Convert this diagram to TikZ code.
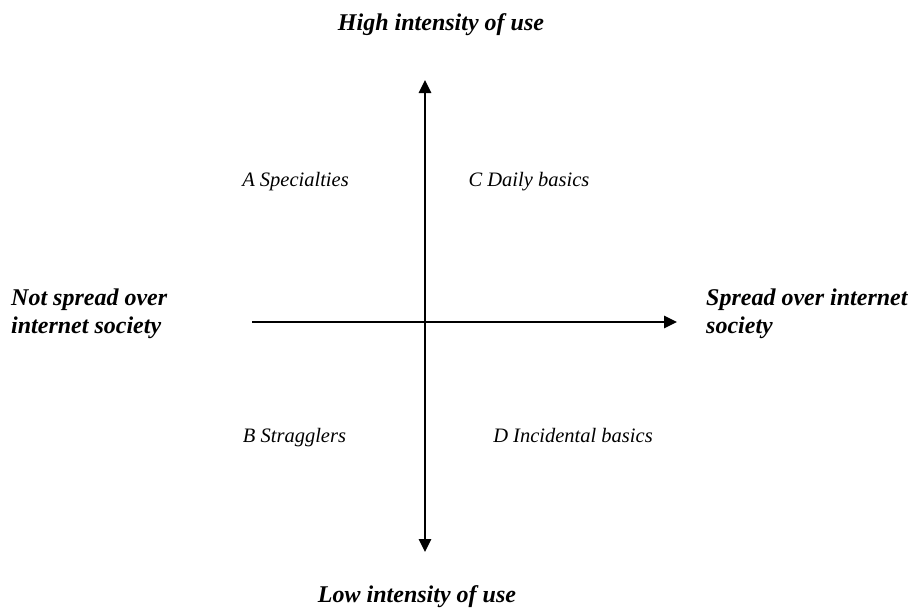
\documentclass[tikz,border=0pt]{standalone}
\usepackage{fontspec}
\setmainfont{Liberation Serif}
\usetikzlibrary{arrows.meta}
\begin{document}
\begin{tikzpicture}[x=1pt,y=-1pt,
  axislabel/.style={font=\fontsize{24}{28}\selectfont\bfseries\itshape, inner sep=0pt},
  sidelabel/.style={axislabel, align=left, anchor=west},
  quadlabel/.style={font=\fontsize{20.5}{24}\selectfont\itshape, inner sep=0pt, anchor=base},
  axis/.style={line width=1.6pt, -{Triangle[length=13pt,width=12.5pt]}}]
  \useasboundingbox (0,0) rectangle (918,608);
  % axis end points
  \coordinate (top) at (425,80);
  \coordinate (bottom) at (425,552);
  \coordinate (left) at (252,322);
  \coordinate (right) at (677,322);
  \coordinate (mid) at (425,322);
  % axes
  \draw[axis] (mid) -- (top);
  \draw[axis] (mid) -- (bottom);
  \draw[axis] (left) -- (right);
  % axis labels
  \node[axislabel, anchor=base] (high) at (441,30) {High intensity of use};
  \node[axislabel, anchor=base] (low) at (417,602) {Low intensity of use};
  \node[sidelabel] (notspread) at (11,313.5) {Not spread over\\internet society};
  \node[sidelabel] (spread) at (706,313.5) {Spread over internet\\society};
  % quadrant labels
  \node[quadlabel] (qa) at (295.5,186) {A Specialties};
  \node[quadlabel] (qc) at (529,186) {C Daily basics};
  \node[quadlabel] (qb) at (294.5,442) {B Stragglers};
  \node[quadlabel] (qd) at (573,442) {D Incidental basics};
\end{tikzpicture}
\end{document}
